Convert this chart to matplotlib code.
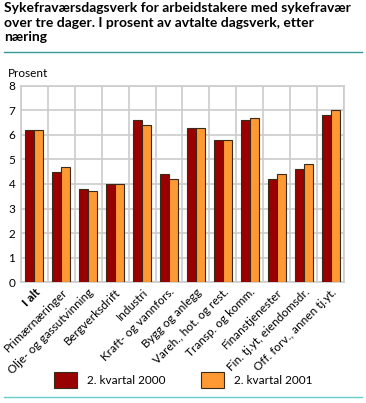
import numpy as np
import matplotlib
matplotlib.use('Agg')
import matplotlib.pyplot as plt

categories = ['I alt', 'Primærnæringer', 'Olje- og gassutvinning', 'Bergverksdrift',
              'Industri', 'Kraft- og vannfors.', 'Bygg og anlegg',
              'Vareh., hot. og rest.', 'Transp. og komm.', 'Finanstjenester',
              'Fin. tj.yt, eiendomsdr.', 'Off. forv., annen tj.yt.']
q2_2000 = [6.2, 4.5, 3.8, 4.0, 6.6, 4.4, 6.3, 5.8, 6.6, 4.2, 4.6, 6.8]
q2_2001 = [6.2, 4.7, 3.7, 4.0, 6.4, 4.2, 6.3, 5.8, 6.7, 4.4, 4.8, 7.0]
series_labels = ['2. kvartal 2000', '2. kvartal 2001']

plt.rcParams['font.family'] = ['Lato', 'DejaVu Sans']

fig = plt.figure(figsize=(3.66, 4.03), dpi=100)
ax = fig.add_axes([0.057, 0.300, 0.883, 0.487])

x = np.arange(len(categories))
w = 0.335
ax.bar(x - w / 2, q2_2000, w, color='#990000', edgecolor='#3a2a1a', linewidth=0.8,
       label=series_labels[0], zorder=3)
ax.bar(x + w / 2, q2_2001, w, color='#ff9933', edgecolor='#3a2a1a', linewidth=0.8,
       label=series_labels[1], zorder=3)

ax.set_xlim(-0.5, len(categories) - 0.5)
ax.set_ylim(0, 8)
ax.set_yticks(range(0, 9))
ax.set_xticks(x)
ax.set_xticklabels(categories, rotation=45, ha='right', rotation_mode='anchor', fontsize=8.5)
ax.get_xticklabels()[0].set_fontweight('bold')
ax.tick_params(axis='y', labelsize=8.5, length=0, pad=4)
ax.tick_params(axis='x', length=0, pad=3)

for b in np.arange(-0.5, len(categories), 1):
    ax.axvline(b, color='#cccccc', linewidth=1.2, zorder=1)
ax.grid(axis='y', color='#cccccc', linewidth=1.2, zorder=1)
for s in ax.spines.values():
    s.set_color('#cccccc')
    s.set_linewidth(1.2)

fig.text(0.012, 0.995, 'Sykefraværsdagsverk for arbeidstakere med sykefravær\n'
         'over tre dager. I prosent av avtalte dagsverk, etter\nnæring',
         ha='left', va='top', fontsize=10, fontweight='bold', linespacing=1.25)
fig.add_artist(plt.Line2D([0.01, 0.99], [0.871, 0.871], color='#339999', linewidth=1))
fig.text(0.022, 0.818, 'Prosent', ha='left', va='center', fontsize=8.5)
fig.add_artist(plt.Line2D([0.01, 0.99], [0.015, 0.015], color='#66cccc', linewidth=1))

fig.legend(loc='center', bbox_to_anchor=(0.5, 0.057), ncol=2, frameon=False,
           fontsize=8.5, handlelength=2.0, handleheight=1.6, columnspacing=3.0)

fig.savefig('out.png', dpi=100)
